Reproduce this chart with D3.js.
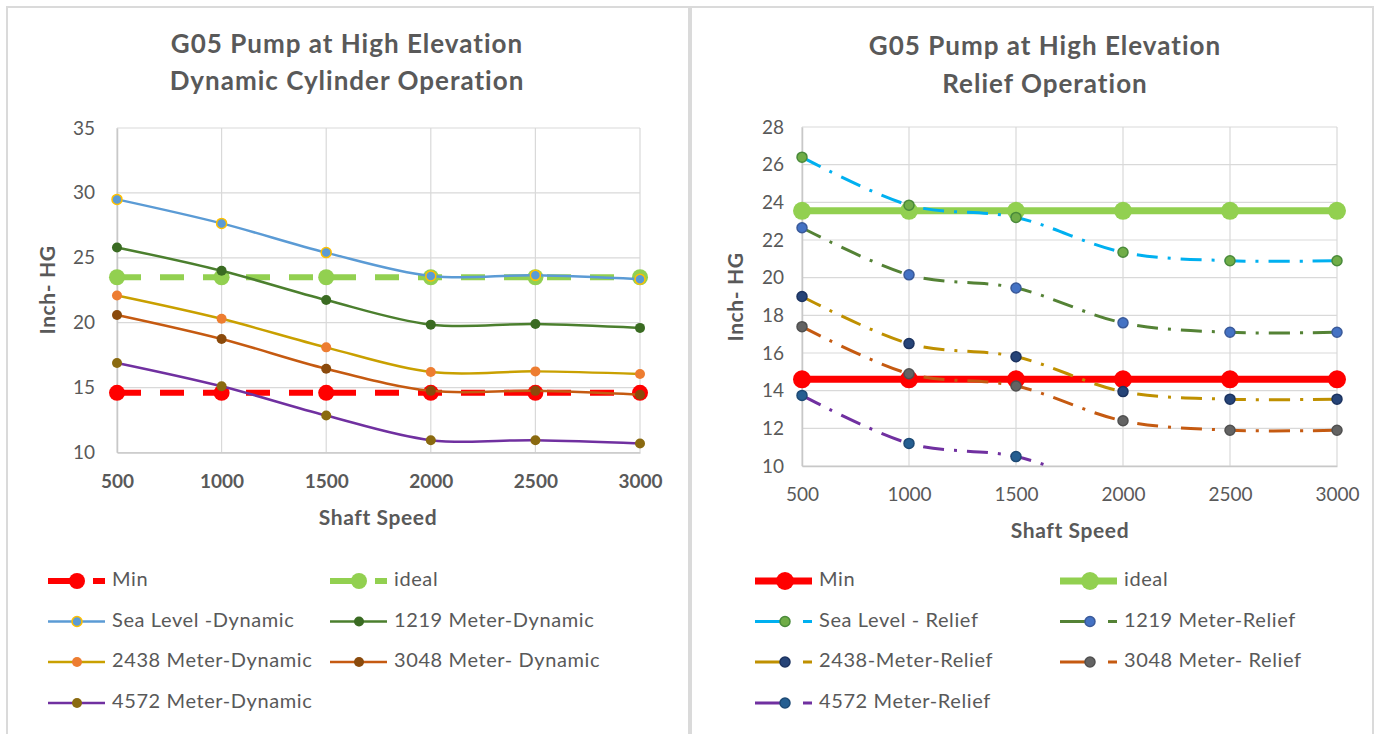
<!DOCTYPE html>
<html><head><meta charset="utf-8">
<script src="https://cdn.jsdelivr.net/npm/d3@7"></script>
<style>
body{margin:0;background:#fff;}
svg{display:block;font-family:Lato,'Open Sans',sans-serif;}
</style>
</head><body>
<svg id="c" width="1380" height="734"></svg>
<script>
// ---------------- DATA ----------------
const speeds = [500, 1000, 1500, 2000, 2500, 3000];
const xTickLabels = ["500", "1000", "1500", "2000", "2500", "3000"];

// Dynamic Cylinder Operation (left)
const dynYTicks = [10, 15, 20, 25, 30, 35];
const dynMin = [14.6, 14.6, 14.6, 14.6, 14.6, 14.6];
const dynIdeal = [23.5, 23.5, 23.5, 23.5, 23.5, 23.5];
const dynSeaLevel = [29.5, 27.65, 25.4, 23.6, 23.65, 23.35];
const dyn1219 = [25.8, 24.0, 21.75, 19.85, 19.9, 19.6];
const dyn2438 = [22.1, 20.3, 18.1, 16.2, 16.25, 16.05];
const dyn3048 = [20.6, 18.75, 16.45, 14.75, 14.75, 14.45];
const dyn4572 = [16.9, 15.1, 12.85, 10.95, 10.95, 10.7];
const dynLabels = ["Min", "ideal", "Sea Level -Dynamic", "1219 Meter-Dynamic",
  "2438 Meter-Dynamic", "3048 Meter- Dynamic", "4572 Meter-Dynamic"];

// Relief Operation (right)
const relYTicks = [10, 12, 14, 16, 18, 20, 22, 24, 26, 28];
const relMin = [14.6, 14.6, 14.6, 14.6, 14.6, 14.6];
const relIdeal = [23.55, 23.55, 23.55, 23.55, 23.55, 23.55];
const relSeaLevel = [26.4, 23.85, 23.2, 21.35, 20.9, 20.9];
const rel1219 = [22.65, 20.15, 19.45, 17.6, 17.1, 17.1];
const rel2438 = [19.0, 16.5, 15.8, 13.95, 13.55, 13.55];
const rel3048 = [17.4, 14.9, 14.25, 12.4, 11.9, 11.9];
const rel4572 = [13.75, 11.2, 10.5, 8.7, 8.2, 8.2];
const relLabels = ["Min", "ideal", "Sea Level - Relief", "1219 Meter-Relief",
  "2438-Meter-Relief", "3048 Meter- Relief", "4572 Meter-Relief"];

// ---------------- DRAW ----------------
const svg = d3.select("#c");
const TXT = "#595959";
const GRID = "#d9d9d9";

function drawChart(cfg) {
  const g = svg.append("g");
  g.append("rect").attr("x", cfg.panel[0]).attr("y", cfg.panel[1])
    .attr("width", cfg.panel[2]).attr("height", cfg.panel[3])
    .attr("fill", "#fff").attr("stroke", "#dadada").attr("stroke-width", 2);

  const x = d3.scaleLinear().domain([500, 3000]).range([cfg.px0, cfg.px1]);
  const y = d3.scaleLinear().domain([cfg.yTicks[0], cfg.yTicks[cfg.yTicks.length - 1]]).range([cfg.py1, cfg.py0]);

  cfg.title.forEach((t, i) => {
    g.append("text").attr("x", cfg.titleX).attr("y", cfg.titleY[i])
      .attr("text-anchor", "middle").attr("dominant-baseline", "middle")
      .attr("font-size", 26).attr("letter-spacing", 1).attr("font-weight", "bold").attr("fill", TXT).text(t);
  });

  g.append("g").selectAll("line").data(cfg.yTicks).join("line")
    .attr("x1", cfg.px0).attr("x2", cfg.px1)
    .attr("y1", d => y(d)).attr("y2", d => y(d))
    .attr("stroke", GRID).attr("stroke-width", 1.2);
  g.append("g").selectAll("line").data(speeds).join("line")
    .attr("y1", cfg.py0).attr("y2", cfg.py1)
    .attr("x1", d => x(d)).attr("x2", d => x(d))
    .attr("stroke", GRID).attr("stroke-width", 1.2);

  const ay = g.append("g").attr("transform", `translate(${cfg.px0},0)`)
    .call(d3.axisLeft(y).tickValues(cfg.yTicks).tickSize(0).tickPadding(cfg.yPad).tickFormat(d3.format("d")));
  ay.select(".domain").attr("stroke", "#c8c8c8").attr("stroke-width", 1.5);
  ay.selectAll("text").attr("font-size", 19).attr("fill", TXT).attr("font-family", "Lato,'Open Sans',sans-serif");

  const ax = g.append("g").attr("transform", `translate(0,${cfg.py1})`)
    .call(d3.axisBottom(x).tickValues(speeds).tickSize(0).tickPadding(cfg.xPad).tickFormat((d, i) => xTickLabels[i]));
  ax.select(".domain").attr("stroke", "#c8c8c8").attr("stroke-width", 1.5);
  ax.selectAll("text").attr("font-size", 19).attr("fill", TXT)
    .attr("font-weight", cfg.xBold ? "bold" : "normal").attr("font-family", "Lato,'Open Sans',sans-serif");

  g.append("text").attr("x", cfg.xTitle[0]).attr("y", cfg.xTitle[1])
    .attr("text-anchor", "middle").attr("dominant-baseline", "middle")
    .attr("font-size", 21).attr("letter-spacing", 0.6).attr("font-weight", "bold").attr("fill", TXT).text("Shaft Speed");
  g.append("text").attr("transform", `translate(${cfg.yTitle[0]},${cfg.yTitle[1]}) rotate(-90)`)
    .attr("text-anchor", "middle").attr("dominant-baseline", "middle")
    .attr("font-size", 21).attr("letter-spacing", 0.6).attr("font-weight", "bold").attr("fill", TXT).text("Inch- HG");

  const cid = "clip" + cfg.id;
  svg.append("defs").append("clipPath").attr("id", cid).append("rect")
    .attr("x", cfg.px0 - 12).attr("y", cfg.py0 - 12)
    .attr("width", cfg.px1 - cfg.px0 + 24).attr("height", cfg.py1 - cfg.py0 + 12);

  const plot = g.append("g").attr("clip-path", `url(#${cid})`);
  cfg.series.forEach(s => {
    const line = d3.line().x((d, i) => x(speeds[i])).y(d => y(d))
      .curve(s.smooth ? d3.curveCardinal.tension(0) : d3.curveLinear);
    plot.append("path").datum(s.values).attr("d", line)
      .attr("fill", "none").attr("stroke", s.color).attr("stroke-width", s.width)
      .attr("stroke-dasharray", s.dash || null).attr("stroke-linecap", "butt");
    plot.append("g").selectAll("circle").data(s.values).join("circle")
      .attr("cx", (d, i) => x(speeds[i])).attr("cy", d => y(d)).attr("r", s.r)
      .attr("fill", s.mFill).attr("stroke", s.mStroke || "none").attr("stroke-width", s.mStroke ? 1.5 : 0);
  });

  cfg.series.forEach((s, i) => {
    const col = i < 2 ? i : (i - 2) % 2;
    const row = i < 2 ? 0 : 1 + Math.floor((i - 2) / 2);
    const lx = cfg.legX[col], ly = cfg.legY[row];
    const lg = g.append("g");
    lg.append("line").attr("x1", lx).attr("x2", lx + cfg.legW).attr("y1", ly).attr("y2", ly)
      .attr("stroke", s.color).attr("stroke-width", s.width)
      .attr("stroke-dasharray", s.legDash || null);
    lg.append("circle").attr("cx", lx + cfg.legM).attr("cy", ly).attr("r", s.r)
      .attr("fill", s.mFill).attr("stroke", s.mStroke || "none").attr("stroke-width", s.mStroke ? 1.5 : 0);
    lg.append("text").attr("x", lx + cfg.legW + 7).attr("y", ly)
      .attr("dominant-baseline", "middle").attr("font-size", 20).attr("letter-spacing", 0.6).attr("fill", TXT)
      .text(cfg.labels[i]);
  });
}

const DASH = "24,19";
const DD = "21,10,3,10";

drawChart({
  id: "L", panel: [7, 7, 682, 740],
  px0: 117, px1: 640, py0: 128, py1: 452.5,
  yTicks: dynYTicks, yPad: 22, xPad: 22, xBold: true,
  title: ["G05 Pump at High Elevation", "Dynamic Cylinder Operation"],
  titleX: 347, titleY: [46, 83],
  xTitle: [378, 520], yTitle: [50, 290],
  legX: [48, 330], legY: [581, 621.5, 662, 703], legW: 57, legM: 29,
  labels: dynLabels,
  series: [
    {values: dynMin, color: "#ff0000", width: 6, dash: DASH, legDash: "32,13,12", r: 8, mFill: "#ff0000", smooth: false},
    {values: dynIdeal, color: "#92d050", width: 6, dash: DASH, legDash: "32,13,12", r: 8, mFill: "#92d050", smooth: false},
    {values: dynSeaLevel, color: "#5b9bd5", width: 2.5, r: 5, mFill: "#5b9bd5", mStroke: "#ffc000", smooth: true},
    {values: dyn1219, color: "#4b7f2e", width: 2.5, r: 5, mFill: "#3a6b22", smooth: true},
    {values: dyn2438, color: "#c9a000", width: 2.5, r: 5, mFill: "#ed7d31", smooth: true},
    {values: dyn3048, color: "#c55a11", width: 2.5, r: 5, mFill: "#8a4a0c", smooth: true},
    {values: dyn4572, color: "#7030a0", width: 2.5, r: 5, mFill: "#8a6a10", smooth: true}
  ]
});

drawChart({
  id: "R", panel: [691, 7, 682, 740],
  px0: 802, px1: 1337, py0: 127, py1: 466,
  yTicks: relYTicks, yPad: 18, xPad: 22, xBold: false,
  title: ["G05 Pump at High Elevation", "Relief Operation"],
  titleX: 1045, titleY: [48, 86],
  xTitle: [1070, 533], yTitle: [738, 297],
  legX: [755, 1060], legY: [581, 621.5, 662, 703], legW: 57, legM: 30,
  labels: relLabels,
  series: [
    {values: relMin, color: "#ff0000", width: 7, r: 9, mFill: "#ff0000", smooth: false},
    {values: relIdeal, color: "#92d050", width: 7, r: 9, mFill: "#92d050", smooth: false},
    {values: relSeaLevel, color: "#00b0f0", width: 3, dash: DD, legDash: "31,17,9", r: 5, mFill: "#70ad47", mStroke: "#4a8a3a", smooth: true},
    {values: rel1219, color: "#548235", width: 3, dash: DD, legDash: "31,17,9", r: 5, mFill: "#4472c4", mStroke: "#3a5a9a", smooth: true},
    {values: rel2438, color: "#bf9000", width: 3, dash: DD, legDash: "31,17,9", r: 5, mFill: "#264478", mStroke: "#1c3360", smooth: true},
    {values: rel3048, color: "#c55a11", width: 3, dash: DD, legDash: "31,17,9", r: 5, mFill: "#636363", mStroke: "#505050", smooth: true},
    {values: rel4572, color: "#7030a0", width: 3, dash: DD, legDash: "31,17,9", r: 5, mFill: "#255e91", mStroke: "#1d4a75", smooth: true}
  ]
});
</script>
</body></html>
